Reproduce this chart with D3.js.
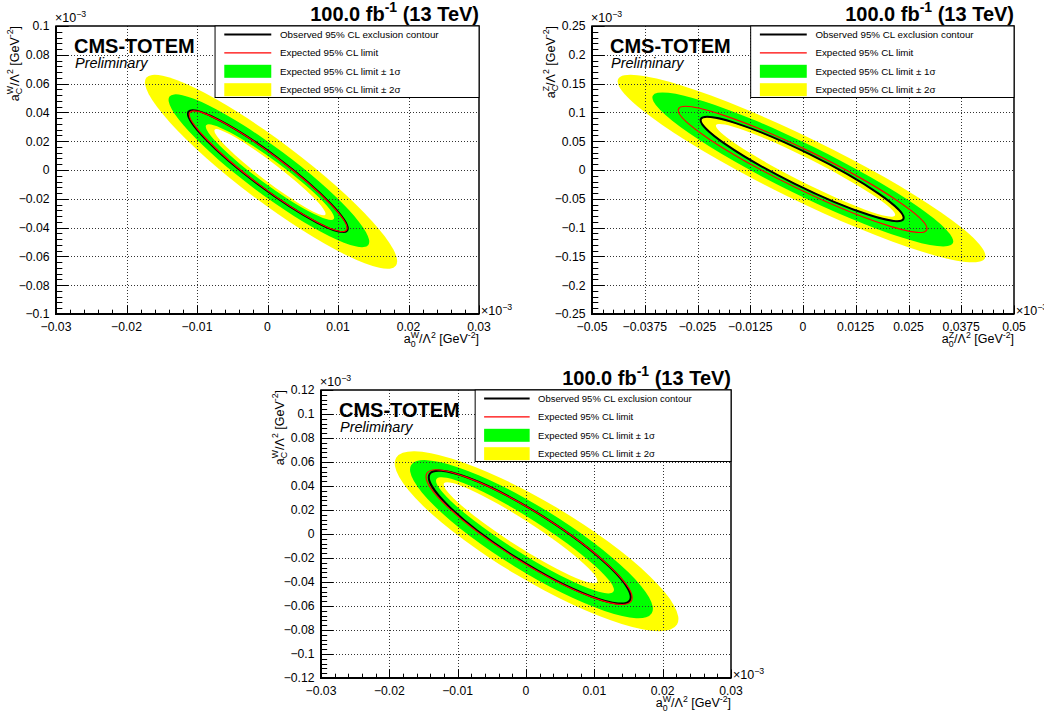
<!DOCTYPE html>
<html>
<head>
<meta charset="utf-8">
<script src="https://cdn.jsdelivr.net/npm/d3@7"></script>
<style>
  body { margin: 0; background: #fff; }
  svg { display: block; }
  text { font-family: "Liberation Sans", Arial, Helvetica, sans-serif; fill: #000; }
</style>
</head>
<body>
<svg id="chart" width="1044" height="715"></svg>
<script>
// each contour row: [name, tipX1, tipY1, tipX2, tipY2, halfWidthX]
// tips are the two ends of the ellipse, halfWidthX the half-width along x through its centre
var wwCContours = [
    ["out2", -0.0172, 0.0640, 0.0182, -0.0665, 0.0069],
    ["out1", -0.0139, 0.0510, 0.0143, -0.0520, 0.0053],
    ["in1",  -0.0087, 0.0310, 0.0094, -0.0340, 0.0028],
    ["in2",  -0.0075, 0.0280, 0.0082, -0.0310, 0.0021],
    ["exp",  -0.0110, 0.0400, 0.0112, -0.0418, 0.0037],
    ["obs",  -0.0112, 0.0405, 0.0113, -0.0421, 0.0038]
];
var zzContours = [
    ["out2", -0.0438, 0.1580, 0.0431, -0.1530, 0.0160],
    ["out1", -0.0356, 0.1290, 0.0355, -0.1270, 0.0128],
    ["in1",  -0.0240, 0.0878, 0.0236, -0.0843, 0.0083],
    ["in2",  -0.0206, 0.0780, 0.0218, -0.0790, 0.0060],
    ["exp",  -0.0295, 0.1060, 0.0293, -0.1040, 0.0100],
    ["obs",  -0.0242, 0.0885, 0.0238, -0.0850, 0.0085]
];
var wwBContours = [
    ["out2", -0.0190, 0.0635, 0.0221, -0.0755, 0.0104],
    ["out1", -0.0168, 0.0575, 0.0184, -0.0661, 0.0084],
    ["in1",  -0.0131, 0.0458, 0.0128, -0.0480, 0.0045],
    ["in2",  -0.0120, 0.0422, 0.0104, -0.0400, 0.0034],
    ["exp",  -0.0145, 0.0506, 0.0154, -0.0558, 0.0065],
    ["obs",  -0.0141, 0.0500, 0.0152, -0.0552, 0.0064]
];

var wwXTicks = [-0.03, -0.02, -0.01, 0, 0.01, 0.02, 0.03];
var wwCYTicks = [-0.1, -0.08, -0.06, -0.04, -0.02, 0, 0.02, 0.04, 0.06, 0.08, 0.1];
var zzXTicks = [-0.05, -0.0375, -0.025, -0.0125, 0, 0.0125, 0.025, 0.0375, 0.05];
var zzYTicks = [-0.25, -0.2, -0.15, -0.1, -0.05, 0, 0.05, 0.1, 0.15, 0.2, 0.25];
var wwBYTicks = [-0.12, -0.1, -0.08, -0.06, -0.04, -0.02, 0, 0.02, 0.04, 0.06, 0.08, 0.1, 0.12];

var legendLabels = [
    "Observed 95% CL exclusion contour",
    "Expected 95% CL limit",
    "Expected 95% CL limit \u00b1 1\u03c3",
    "Expected 95% CL limit \u00b1 2\u03c3"
];
var lumiText = "100.0 fb";

var panels = [
    {frame: [56, 26, 479, 314], xDomain: [-0.03, 0.03], yDomain: [-0.1, 0.1],
     xTicks: wwXTicks, yTicks: wwCYTicks, xMinor: 0.002, yMinor: 0.004,
     contours: wwCContours, boson: "W"},
    {frame: [592, 26, 1014, 314], xDomain: [-0.05, 0.05], yDomain: [-0.25, 0.25],
     xTicks: zzXTicks, yTicks: zzYTicks, xMinor: 0.0025, yMinor: 0.01,
     contours: zzContours, boson: "Z"},
    {frame: [321, 390, 731, 678], xDomain: [-0.03, 0.03], yDomain: [-0.12, 0.12],
     xTicks: wwXTicks, yTicks: wwBYTicks, xMinor: 0.002, yMinor: 0.004,
     contours: wwBContours, boson: "W"}
];

var fillColor = {out2: "#ffff00", out1: "#00ff00", in1: "#ffff00", in2: "#ffffff"};
var fmt = d3.format("~g");
var svg = d3.select("#chart");

function ellipseOf(c, x, y) {
    var x1 = x(c[1]), y1 = y(c[2]), x2 = x(c[3]), y2 = y(c[4]);
    var a = Math.hypot(x2 - x1, y2 - y1) / 2;
    var th = Math.atan2(y2 - y1, x2 - x1);
    var hw = Math.abs(x(c[5]) - x(0));
    var s2 = Math.pow(Math.sin(th), 2), c2 = Math.pow(Math.cos(th), 2);
    var b = Math.sqrt(s2 / Math.max(1 / (hw * hw) - c2 / (a * a), 1e-9));
    return {cx: (x1 + x2) / 2, cy: (y1 + y2) / 2, a: a, b: b, deg: th * 180 / Math.PI};
}

// parts: [text, mode]  mode 0 normal, 1 superscript, -1 subscript, 2 superscript stacked on previous subscript
function richText(sel, parts, size) {
    var cur = 0, lastW = 0;
    parts.forEach(function(p) {
        var target = (p[1] === 1 || p[1] === 2) ? -0.42 * size : (p[1] === -1 ? 0.3 * size : 0);
        var ts = sel.append("tspan")
            .text(p[0])
            .attr("dy", target - cur)
            .style("font-size", (p[1] ? 0.7 * size : size) + "px");
        if (p[1] === 2) ts.attr("dx", -lastW);
        cur = target;
        lastW = ts.node().getComputedTextLength();
    });
}

function drawPanel(p) {
    var L = p.frame[0], T = p.frame[1], R = p.frame[2], B = p.frame[3];
    var W = R - L, H = B - T;
    var x = d3.scaleLinear().domain(p.xDomain).range([L, R]);
    var y = d3.scaleLinear().domain(p.yDomain).range([B, T]);
    var g = svg.append("g");

    // bands: yellow, green, then inner yellow and white hole
    var fills = p.contours.filter(function(c) { return fillColor[c[0]]; });
    g.selectAll("ellipse.band").data(fills).enter().append("ellipse")
        .attr("class", "band")
        .each(function(c) {
            var e = ellipseOf(c, x, y);
            d3.select(this)
                .attr("rx", e.a).attr("ry", e.b)
                .attr("transform", "translate(" + e.cx + "," + e.cy + ") rotate(" + e.deg + ")");
        })
        .attr("fill", function(c) { return fillColor[c[0]]; });

    // dotted grid on top of the bands
    var grid = g.append("g").attr("stroke", "#333").attr("stroke-width", 1)
        .attr("stroke-dasharray", "1,2");
    grid.selectAll("line.gx").data(p.xTicks.slice(1, -1)).enter().append("line")
        .attr("x1", function(d) { return Math.round(x(d)) + 0.5; })
        .attr("x2", function(d) { return Math.round(x(d)) + 0.5; })
        .attr("y1", T).attr("y2", B);
    grid.selectAll("line.gy").data(p.yTicks.slice(1, -1)).enter().append("line")
        .attr("y1", function(d) { return Math.round(y(d)) + 0.5; })
        .attr("y2", function(d) { return Math.round(y(d)) + 0.5; })
        .attr("x1", L).attr("x2", R);

    // contour lines
    var lines = [["obs", "#000", 2], ["exp", "#ff0000", 1.2]];
    lines.forEach(function(l) {
        var c = p.contours.filter(function(d) { return d[0] === l[0]; })[0];
        var e = ellipseOf(c, x, y);
        g.append("ellipse")
            .attr("rx", e.a).attr("ry", e.b)
            .attr("transform", "translate(" + e.cx + "," + e.cy + ") rotate(" + e.deg + ")")
            .attr("fill", "none").attr("stroke", l[1]).attr("stroke-width", l[2]);
    });

    // ticks (inside, left and bottom only)
    var ticks = g.append("g").attr("stroke", "#000").attr("stroke-width", 1);
    var xMin = d3.range(p.xDomain[0], p.xDomain[1] + p.xMinor / 2, p.xMinor);
    var yMin = d3.range(p.yDomain[0], p.yDomain[1] + p.yMinor / 2, p.yMinor);
    var xLen = 0.03 * H, yLen = 0.03 * W;
    ticks.selectAll("line.xm").data(xMin).enter().append("line")
        .attr("x1", function(d) { return Math.round(x(d)) + 0.5; })
        .attr("x2", function(d) { return Math.round(x(d)) + 0.5; })
        .attr("y1", B).attr("y2", B - xLen / 2);
    ticks.selectAll("line.xM").data(p.xTicks).enter().append("line")
        .attr("x1", function(d) { return Math.round(x(d)) + 0.5; })
        .attr("x2", function(d) { return Math.round(x(d)) + 0.5; })
        .attr("y1", B).attr("y2", B - xLen);
    ticks.selectAll("line.ym").data(yMin).enter().append("line")
        .attr("y1", function(d) { return Math.round(y(d)) + 0.5; })
        .attr("y2", function(d) { return Math.round(y(d)) + 0.5; })
        .attr("x1", L).attr("x2", L + yLen / 2);
    ticks.selectAll("line.yM").data(p.yTicks).enter().append("line")
        .attr("y1", function(d) { return Math.round(y(d)) + 0.5; })
        .attr("y2", function(d) { return Math.round(y(d)) + 0.5; })
        .attr("x1", L).attr("x2", L + yLen);

    // frame
    g.append("rect").attr("x", L).attr("y", T).attr("width", W).attr("height", H)
        .attr("fill", "none").attr("stroke", "#000").attr("stroke-width", 1.5);
    g.append("path").attr("d", "M" + L + "," + T + "V" + B + "H" + R)
        .attr("fill", "none").attr("stroke", "#000").attr("stroke-width", 2);

    // tick labels
    g.selectAll("text.xl").data(p.xTicks).enter().append("text")
        .attr("x", function(d) { return x(d); })
        .attr("y", B + 16.5)
        .attr("text-anchor", "middle")
        .style("font-size", "12.2px")
        .text(function(d) { return fmt(d); });
    g.selectAll("text.yl").data(p.yTicks).enter().append("text")
        .attr("x", L - 6.5)
        .attr("y", function(d) { return y(d); })
        .attr("dy", "0.36em")
        .attr("text-anchor", "end")
        .style("font-size", "12.2px")
        .text(function(d) { return fmt(d); });

    // exponent labels
    var ex1 = g.append("text").attr("x", L - 1).attr("y", T - 4);
    richText(ex1, [["\u00d710", 0], ["\u22123", 1]], 12.5);
    var ex2 = g.append("text").attr("x", R + 2).attr("y", B + 1);
    richText(ex2, [["\u00d710", 0], ["\u22123", 1]], 12.5);

    // axis titles
    var xt = g.append("text").attr("x", R).attr("y", B + 29).attr("text-anchor", "end");
    richText(xt, [["a", 0], ["0", -1], [p.boson, 2], ["/\u039b", 0], ["2", 1], [" [GeV", 0], ["-2", 1], ["]", 0]], 12.5);
    var yt = g.append("text").attr("text-anchor", "end")
        .attr("transform", "translate(" + (L - 37.5) + "," + T + ") rotate(-90)");
    richText(yt, [["a", 0], ["C", -1], [p.boson, 2], ["/\u039b", 0], ["2", 1], [" [GeV", 0], ["-2", 1], ["]", 0]], 12.5);

    // header and labels
    var hd = g.append("text").attr("x", R).attr("y", T - 5.5).attr("text-anchor", "end")
        .style("font-weight", "bold");
    richText(hd, [[lumiText, 0], ["-1", 1], [" (13 TeV)", 0]], 20);
    g.append("text").attr("x", L + 18).attr("y", T + 26.7)
        .style("font-weight", "bold").style("font-size", "20px").text("CMS-TOTEM");
    g.append("text").attr("x", L + 19).attr("y", T + 41.5)
        .style("font-style", "italic").style("font-size", "14.5px").text("Preliminary");

    // legend
    var lx0 = L + 0.376 * W, lw = R - lx0, k = W / 423;
    var leg = g.append("g");
    leg.append("rect").attr("x", lx0).attr("y", T).attr("width", lw).attr("height", 71.5)
        .attr("fill", "#fff").attr("stroke", "#000").attr("stroke-width", 1);
    var rowY = function(i) { return T + 8.5 + i * 18.4; };
    var sx0 = lx0 + 0.035 * lw, sx1 = lx0 + 0.213 * lw;
    [["#000", 2], ["#ff0000", 1.4]].forEach(function(s, i) {
        leg.append("line").attr("x1", sx0).attr("x2", sx1)
            .attr("y1", rowY(i)).attr("y2", rowY(i))
            .attr("stroke", s[0]).attr("stroke-width", s[1]);
    });
    ["#00ff00", "#ffff00"].forEach(function(col, i) {
        leg.append("rect").attr("x", sx0).attr("y", rowY(i + 2) - 6.5)
            .attr("width", sx1 - sx0).attr("height", 13).attr("fill", col);
    });
    leg.selectAll("text").data(legendLabels).enter().append("text")
        .attr("x", lx0 + 0.246 * lw)
        .attr("y", function(d, i) { return rowY(i); })
        .attr("dy", "0.35em")
        .style("font-size", (9.8 * k) + "px")
        .text(function(d) { return d; });
}

panels.forEach(drawPanel);
</script>
</body>
</html>
